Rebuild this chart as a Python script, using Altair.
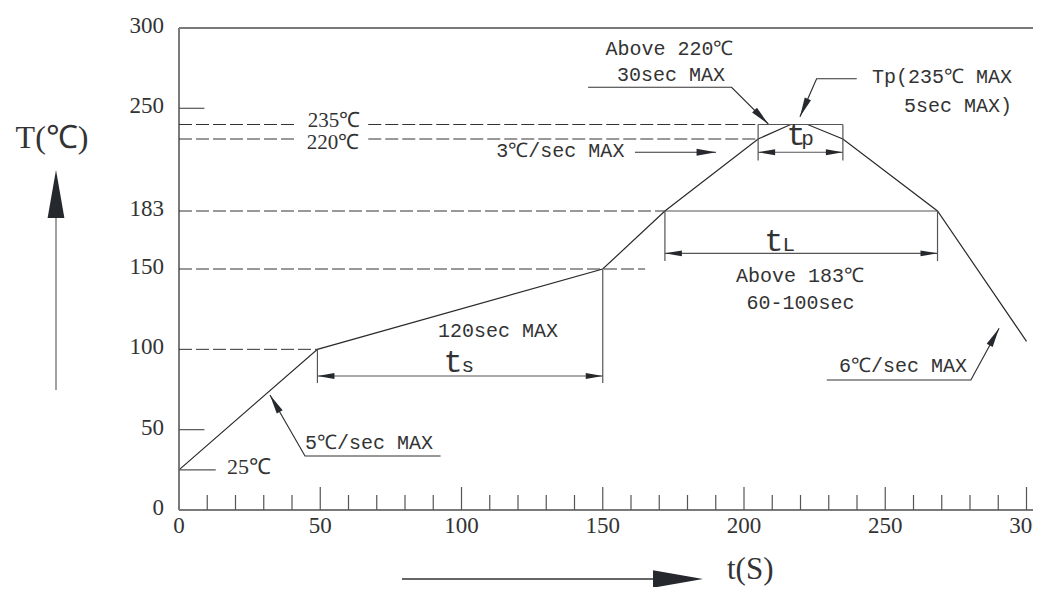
import altair as alt
import pandas as pd

# ---------------- data (time in s, temperature in ℃) ----------------
profile_t = [0, 49, 150, 172, 205, 216.5, 222.5, 235, 268.5, 300]
profile_T = [25, 100, 150, 183, 220, 235, 235, 220, 183, 105]

x_major = [0, 50, 100, 150, 200, 250, 300]
x_minor = [10, 20, 30, 40, 60, 70, 80, 90, 110, 120, 130, 140,
           160, 170, 180, 190, 210, 220, 230, 240, 260, 270, 280, 290]
y_labels = [0, 50, 100, 150, 183, 250, 300]

# dashed guide lines: level, from, to
dash_T = [235, 235, 220, 220, 183, 150, 100]
dash_t1 = [0, 67, 0, 67, 0, 0, 0]
dash_t2 = [41, 205, 41, 205, 172, 165, 49]

# solid guide lines: level, from, to
solid_T = [250, 50, 25, 183, 235]
solid_t1 = [0, 0, 0, 172, 205]
solid_t2 = [9, 9, 13, 268.5, 235]

# vertical extension lines: time, low, high
ext_t = [49, 150, 172, 268.5, 205, 235]
ext_lo = [79, 79, 154.5, 154.5, 209, 209]
ext_hi = [100, 150, 183, 183, 235, 235]

# dimension arrows ts, tL, tp
dim_t1 = [49, 172, 205]
dim_t2 = [150, 268.5, 235]
dim_T = [83.4, 158.9, 213.2]
dim_main = ["t", "t", "t"]
dim_main_t = [97, 210.6, 218.4]
dim_sub = ["s", "L", "p"]
dim_sub_t = [100.0, 213.6, 220.3]
dim_text_T = [85.8, 160.0, 216.9]

# leader lines
leader_id = ["a", "a", "a", "b", "b", "b", "c", "c", "c", "d", "d", "d", "e", "e"]
leader_t = [92.6, 44.6, 32.2, 229.3, 280.3, 290.3, 144.8, 195.6, 208.6,
            239.9, 225.7, 219.8, 161.4, 190.1]
leader_T = [33.6, 33.6, 71.6, 80.9, 80.9, 113.1, 263.1, 263.1, 235.5,
            268.4, 268.4, 242.2, 213.2, 213.2]

# arrow heads at dimension lines
dhead_t = [49, 150, 172, 268.5, 205, 235]
dhead_T = [83.4, 83.4, 158.9, 158.9, 213.2, 213.2]
dhead_angle = [180, 0, 180, 0, 180, 0]
# arrow heads at leader tips
lhead_t = [190.1, 32.2, 290.3, 208.6, 219.8]
lhead_T = [213.2, 71.6, 113.1, 235.5, 242.2]
lhead_angle = [0, 240, 299, 45, 114]

# annotation texts
note_text = ["Above 220℃", "30sec MAX", "3℃/sec MAX", "Above 183℃", "60-100sec",
             "120sec MAX", "6℃/sec MAX"]
note_t = [173.6, 174.2, 135.0, 219.8, 220.0, 112.9, 256.3]
note_T = [287.2, 270.7, 213.8, 145.9, 128.8, 111.4, 89.9]
noteR_text = ["Tp(235℃ MAX", "5sec MAX)"]
noteR_t = [294.9, 294.9]
noteR_T = [269.2, 251.4]
noteL_text = ["5℃/sec MAX"]
noteL_t = [44.6]
noteL_T = [41.4]

serif_text = ["235℃", "220℃"]
serif_t = [54.9, 54.5]
serif_T = [238.2, 217.9]
serifL_text = ["25℃"]
serifL_t = [17.0]
serifL_T = [26.8]

# ---------------- layout / style ----------------
W, H = 854, 482
XMAX = 302.3
MONO = "Liberation Mono"
SERIF = "Liberation Serif"
TXT = "#333333"
AX = "#7a7a7a"
HEAD = "#25292e"
ARROW = "M0,0L-2,-0.35L-2,0.35Z"

xs = alt.Scale(domain=[0, XMAX], nice=False, zero=False)
ys = alt.Scale(domain=[0, 150, 183, 220, 235, 250, 300],
               range=[482, 241, 183, 111, 96.5, 80.3, 0], nice=False, zero=False)


def X(f):
    return alt.X(f, scale=xs, axis=None)


def Y(f):
    return alt.Y(f, scale=ys, axis=None)


one = pd.DataFrame({"k": [0]})

prof = pd.DataFrame({"t": profile_t, "T": profile_T, "o": list(range(len(profile_t)))})
profile = alt.Chart(prof).mark_line(color="#2a2a2a", strokeWidth=1.2).encode(
    x=X("t:Q"), y=Y("T:Q"), order="o:Q")

# frame: top border, left and bottom axis lines
top_border = alt.Chart(one).mark_rule(color=AX, strokeWidth=2).encode(
    x=alt.value(0), x2=alt.value(W), y=alt.value(0))
left_axis = alt.Chart(one).mark_rule(color=AX, strokeWidth=2).encode(
    x=alt.value(0), y=alt.value(0), y2=alt.value(H))
bottom_axis = alt.Chart(one).mark_rule(color=AX, strokeWidth=2).encode(
    x=alt.value(0), x2=alt.value(W), y=alt.value(H))

minor_ticks = alt.Chart(pd.DataFrame({"t": x_minor})).mark_rule(
    color="#555555", strokeWidth=1.2).encode(x=X("t:Q"), y=alt.value(H), y2=alt.value(H - 15))
major_ticks = alt.Chart(pd.DataFrame({"t": x_major[1:]})).mark_rule(
    color="#555555", strokeWidth=1.2).encode(x=X("t:Q"), y=alt.value(H), y2=alt.value(H - 23))

x_lab = alt.Chart(pd.DataFrame({"v": x_major})).mark_text(
    font=SERIF, fontSize=23, color=TXT, align="center", baseline="top").encode(
    x=X("v:Q"), y=alt.value(H + 5), text="v:N")
y_lab = alt.Chart(pd.DataFrame({"v": y_labels})).mark_text(
    font=SERIF, fontSize=23, color=TXT, align="right", baseline="middle", dy=-2).encode(
    x=alt.value(-15), y=Y("v:Q"), text="v:N")

dashed = alt.Chart(pd.DataFrame({"T": dash_T, "t1": dash_t1, "t2": dash_t2})).mark_rule(
    color="#333333", strokeWidth=1, strokeDash=[13, 4]).encode(
    x=X("t1:Q"), x2="t2:Q", y=Y("T:Q"))

solid = alt.Chart(pd.DataFrame({"T": solid_T, "t1": solid_t1, "t2": solid_t2})).mark_rule(
    color="#555555", strokeWidth=1.2).encode(x=X("t1:Q"), x2="t2:Q", y=Y("T:Q"))

ext = alt.Chart(pd.DataFrame({"t": ext_t, "lo": ext_lo, "hi": ext_hi})).mark_rule(
    color="#555555", strokeWidth=1.2).encode(x=X("t:Q"), y=Y("lo:Q"), y2="hi:Q")

dims = alt.Chart(pd.DataFrame({"T": dim_T, "t1": dim_t1, "t2": dim_t2})).mark_rule(
    color="#555555", strokeWidth=1.2).encode(x=X("t1:Q"), x2="t2:Q", y=Y("T:Q"))

dim_main_txt = alt.Chart(pd.DataFrame({"t": dim_main_t, "T": dim_text_T, "s": dim_main})).mark_text(
    font=MONO, fontSize=32, color=TXT, align="center", baseline="alphabetic").encode(
    x=X("t:Q"), y=Y("T:Q"), text="s:N")
dim_sub_txt = alt.Chart(pd.DataFrame({"t": dim_sub_t, "T": dim_text_T, "s": dim_sub})).mark_text(
    font=MONO, fontSize=21, color=TXT, align="left", baseline="alphabetic").encode(
    x=X("t:Q"), y=Y("T:Q"), text="s:N")

leaders = alt.Chart(pd.DataFrame({
    "id": leader_id, "t": leader_t, "T": leader_T,
    "o": list(range(len(leader_t)))})).mark_line(color="#333333", strokeWidth=1.2).encode(
    x=X("t:Q"), y=Y("T:Q"), detail="id:N", order="o:Q")

dheads = alt.Chart(pd.DataFrame({"t": dhead_t, "T": dhead_T, "a": dhead_angle})).mark_point(
    shape=ARROW, filled=True, color=HEAD, opacity=1, strokeWidth=0).encode(
    x=X("t:Q"), y=Y("T:Q"), angle=alt.Angle("a:Q", scale=None), size=alt.value(289))
lheads = alt.Chart(pd.DataFrame({"t": lhead_t, "T": lhead_T, "a": lhead_angle})).mark_point(
    shape=ARROW, filled=True, color=HEAD, opacity=1, strokeWidth=0).encode(
    x=X("t:Q"), y=Y("T:Q"), angle=alt.Angle("a:Q", scale=None), size=alt.value(380))


def texts(txt, tt, TT, align, font, size):
    return alt.Chart(pd.DataFrame({"s": txt, "t": tt, "T": TT})).mark_text(
        font=font, fontSize=size, color=TXT, align=align, baseline="middle").encode(
        x=X("t:Q"), y=Y("T:Q"), text="s:N")


notes_c = texts(note_text, note_t, note_T, "center", MONO, 20)
notes_r = texts(noteR_text, noteR_t, noteR_T, "right", MONO, 20)
notes_l = texts(noteL_text, noteL_t, noteL_T, "left", MONO, 20)
serif_c = texts(serif_text, serif_t, serif_T, "center", SERIF, 21)
serif_l = texts(serifL_text, serifL_t, serifL_T, "left", SERIF, 22)

# axis arrows and axis titles (decoration outside the plot)
v_arrow = alt.Chart(one).mark_rule(color="#8a8a8a", strokeWidth=1.6).encode(
    x=alt.value(-123), y=alt.value(190), y2=alt.value(362))
v_head = alt.Chart(one).mark_point(shape=ARROW, filled=True, color=HEAD, opacity=1,
                                   strokeWidth=0, angle=270, size=2304).encode(
    x=alt.value(-123), y=alt.value(142))
h_arrow = alt.Chart(one).mark_rule(color="#333333", strokeWidth=1.6).encode(
    x=alt.value(223), x2=alt.value(476), y=alt.value(551))
h_head = alt.Chart(one).mark_point(shape=ARROW, filled=True, color=HEAD, opacity=1,
                                   strokeWidth=0, angle=0, size=2500).encode(
    x=alt.value(524), y=alt.value(551))
y_title = alt.Chart(one).mark_text(text="T(℃)", font=SERIF, fontSize=32, color=TXT,
                                   align="center", baseline="alphabetic").encode(
    x=alt.value(-127), y=alt.value(120))
x_title = alt.Chart(one).mark_text(text="t(S)", font=SERIF, fontSize=31, color=TXT,
                                   align="left", baseline="alphabetic").encode(
    x=alt.value(548), y=alt.value(551))

chart = alt.layer(
    profile, top_border, left_axis, bottom_axis, minor_ticks, major_ticks, x_lab, y_lab,
    dashed, solid, ext, dims,
    leaders, dheads, lheads, dim_main_txt, dim_sub_txt,
    notes_c, notes_r, notes_l, serif_c, serif_l,
    v_arrow, v_head, h_arrow, h_head, y_title, x_title,
).properties(
    width=W, height=H,
    autosize=alt.AutoSizeParams(type="none"),
    padding={"left": 171, "top": 20, "right": 0, "bottom": 77},
).configure_view(strokeWidth=0).configure(background="white")

chart.save("out.html", embed_options={"renderer": "svg", "actions": False})
